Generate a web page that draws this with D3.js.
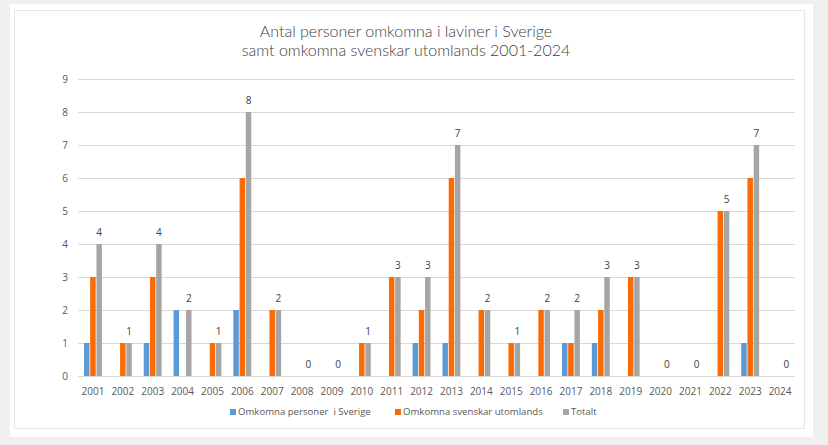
<!DOCTYPE html>
<html>
<head>
<meta charset="utf-8">
<script src="https://cdn.jsdelivr.net/npm/d3@7"></script>
<style>
  body { margin: 0; background: #f0f0f0; }
  svg { display: block; }
</style>
</head>
<body>
<div id="chart"></div>
<script>
const years = ["2001","2002","2003","2004","2005","2006","2007","2008","2009","2010","2011","2012",
               "2013","2014","2015","2016","2017","2018","2019","2020","2021","2022","2023","2024"];
const sverige   = [1,0,1,2,0,2,0,0,0,0,0,1,1,0,0,0,1,1,0,0,0,0,1,0];
const utomlands = [3,1,3,0,1,6,2,0,0,1,3,2,6,2,1,2,1,2,3,0,0,5,6,0];
const totalt    = [4,1,4,2,1,8,2,0,0,1,3,3,7,2,1,2,2,3,3,0,0,5,7,0];
const seriesNames = ["Omkomna personer  i Sverige", "Omkomna svenskar utomlands", "Totalt"];
const yTicks = [0,1,2,3,4,5,6,7,8,9];
const colors = ["#5b9bd5", "#fb6a05", "#a5a5a5"];

const width = 828, height = 445;
const svg = d3.select("#chart").append("svg")
    .attr("width", width)
    .attr("height", height);

// outer white sheet + inner card
svg.append("rect").attr("x", 10).attr("y", 4).attr("width", 803).attr("height", 433).attr("fill", "#ffffff");
svg.append("rect").attr("x", 14.5).attr("y", 10.5).attr("width", 790).attr("height", 418)
    .attr("fill", "#ffffff").attr("stroke", "#e6e6e6");

const margin = { left: 78, right: 33, top: 79, bottom: 69 };
const x = d3.scaleBand().domain(years).range([margin.left, width - margin.right]).paddingInner(0.4).paddingOuter(0.2);
const xs = d3.scaleBand().domain([0,1,2]).range([0, x.bandwidth()]).paddingInner(0.12);
const y = d3.scaleLinear().domain([0, 9]).range([height - margin.bottom, margin.top]);

// gridlines
svg.append("g")
  .selectAll("line")
  .data(yTicks)
  .join("line")
    .attr("x1", margin.left).attr("x2", width - margin.right)
    .attr("y1", d => Math.round(y(d)) + 0.5).attr("y2", d => Math.round(y(d)) + 0.5)
    .attr("stroke", "#d9d9d9");

// y axis labels
svg.append("g")
  .selectAll("text")
  .data(yTicks)
  .join("text")
    .attr("x", 68).attr("y", d => y(d)).attr("dy", "0.35em")
    .attr("text-anchor", "end")
    .attr("font-family", "Open Sans")
    .attr("font-size", 10)
    .attr("fill", "#595959")
    .text(d => d);

// x labels
svg.append("g")
  .selectAll("text")
  .data(years)
  .join("text")
    .attr("x", d => x(d) + x.bandwidth() / 2)
    .attr("y", y(0) + 15).attr("dy", "0.35em")
    .attr("text-anchor", "middle")
    .attr("font-family", "Open Sans")
    .attr("font-size", 10)
    .attr("fill", "#595959")
    .text(d => d);

// bars
const allSeries = [sverige, utomlands, totalt];
allSeries.forEach((vals, si) => {
  svg.append("g")
    .selectAll("rect")
    .data(vals.map((v, i) => ({ year: years[i], v })))
    .join("rect")
      .attr("x", d => x(d.year) + xs(si))
      .attr("y", d => y(d.v))
      .attr("width", xs.bandwidth())
      .attr("height", d => y(0) - y(d.v))
      .attr("fill", colors[si]);
});

// total labels
svg.append("g")
  .selectAll("text")
  .data(totalt.map((v, i) => ({ year: years[i], v })))
  .join("text")
    .attr("x", d => x(d.year) + xs(2) + xs.bandwidth() / 2)
    .attr("y", d => y(d.v) - 12).attr("dy", "0.35em")
    .attr("text-anchor", "middle")
    .attr("font-family", "Open Sans")
    .attr("font-size", 10)
    .attr("fill", "#404040")
    .text(d => d.v);

// title
const title = svg.append("text")
    .attr("text-anchor", "middle")
    .attr("font-family", "Lato")
    .attr("font-weight", 300)
    .attr("font-size", 16)
    .attr("fill", "#404040");
title.append("tspan").attr("x", 406).attr("y", 37).text("Antal personer omkomna i laviner i Sverige");
title.append("tspan").attr("x", 406).attr("y", 56).text("samt omkomna svenskar utomlands 2001-2024");

// legend
const legendX = [230, 395, 563];
const legend = svg.append("g")
  .selectAll("g")
  .data(seriesNames)
  .join("g")
    .attr("transform", (d, i) => `translate(${legendX[i]},412)`);
legend.append("rect").attr("x", 0).attr("y", -3).attr("width", 6).attr("height", 6).attr("fill", (d, i) => colors[i]);
legend.append("text")
    .attr("x", 8).attr("y", 0).attr("dy", "0.35em")
    .attr("font-family", "Open Sans")
    .attr("font-size", 9.6)
    .attr("fill", "#595959")
    .attr("xml:space", "preserve")
    .style("white-space", "pre")
    .text(d => d);
</script>
</body>
</html>
